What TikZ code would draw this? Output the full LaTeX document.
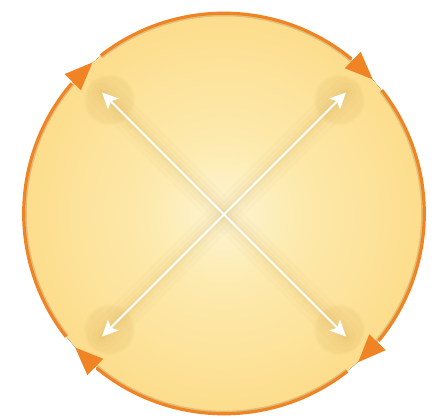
\documentclass[tikz,border=0pt]{standalone}
\usetikzlibrary{arrows.meta,fadings,calc}
\definecolor{sunC}{RGB}{253,245,212}
\definecolor{sunM}{RGB}{253,234,174}
\definecolor{sunE}{RGB}{253,221,140}
\definecolor{rimorange}{RGB}{240,131,35}
\definecolor{rimtan}{RGB}{222,192,122}
\definecolor{glowc}{RGB}{200,160,70}
\pgfdeclareradialshading{sunfill}{\pgfpoint{0bp}{0bp}}{color(0bp)=(sunC); color(9bp)=(sunM); color(25bp)=(sunE); color(50bp)=(sunE)}
\tikzset{
  orangearc/.style={draw=rimorange, line width=3.2pt},
  orangehead/.style={draw=rimorange, line width=3.2pt, -{Triangle[length=28pt,width=22pt]}},
  tanarc/.style={draw=rimtan, line width=1.6pt},
  whitearrow/.style={draw=white, line width=2pt, {Stealth[length=16pt,width=15pt,inset=3.5pt]}-{Stealth[length=16pt,width=15pt,inset=3.5pt]}},
  glowline/.style={draw=glowc, line cap=round},
  glowspot/.style={fill=glowc, path fading=circle with fuzzy edge 15 percent}
}
\begin{document}
\begin{tikzpicture}[x=1pt,y=1pt]
\useasboundingbox (0,0) rectangle (445,417);
\coordinate (O) at (224,203.5);
% fill
\fill[shading=sunfill] (O) circle[radius=200];
% tan inner rim
\draw[tanarc] ([shift={(O)}]128:198) arc[start angle=128,end angle=44,radius=198];
\draw[tanarc] ([shift={(O)}]38:198) arc[start angle=38,end angle=-46,radius=198];
\draw[tanarc] ([shift={(O)}]-52:198) arc[start angle=-52,end angle=-136,radius=198];
\draw[tanarc] ([shift={(O)}]218:198) arc[start angle=218,end angle=134,radius=198];
% orange arcs (clockwise), each ending in an arrowhead
\foreach \s/\e in {128/42, 38/-48, -52/-138, 218/131}{
  \pgfmathsetmacro{\b}{\e+8}
  \coordinate (hb) at ($(O)+(\b:200.3)$);
  \coordinate (ht) at ($(O)+(\e:200.3)$);
  \draw[orangearc] ([shift={(O)}]\s:200.3) arc[start angle=\s,end angle=\b+0.5,radius=200.3];
  \draw[orangehead] (hb) -- (ht);
}
% X arrows
\coordinate (tl) at (102,324.5);
\coordinate (br) at (346,80.5);
\coordinate (tr) at (346,324.5);
\coordinate (bl) at (102,80.5);
% soft glow
\foreach \w/\o in {30/0.03,20/0.04,12/0.05,6/0.07}{
  \draw[glowline, line width=\w pt, opacity=\o] (tl) -- (br);
  \draw[glowline, line width=\w pt, opacity=\o] (tr) -- (bl);
}
\foreach \c in {tl,tr,bl,br}{
  \fill[glowspot, opacity=0.13] ($(\c)!10pt!(O)$) circle[radius=26];
}
\draw[whitearrow] (tl) -- (br);
\draw[whitearrow] (tr) -- (bl);
\end{tikzpicture}
\end{document}
